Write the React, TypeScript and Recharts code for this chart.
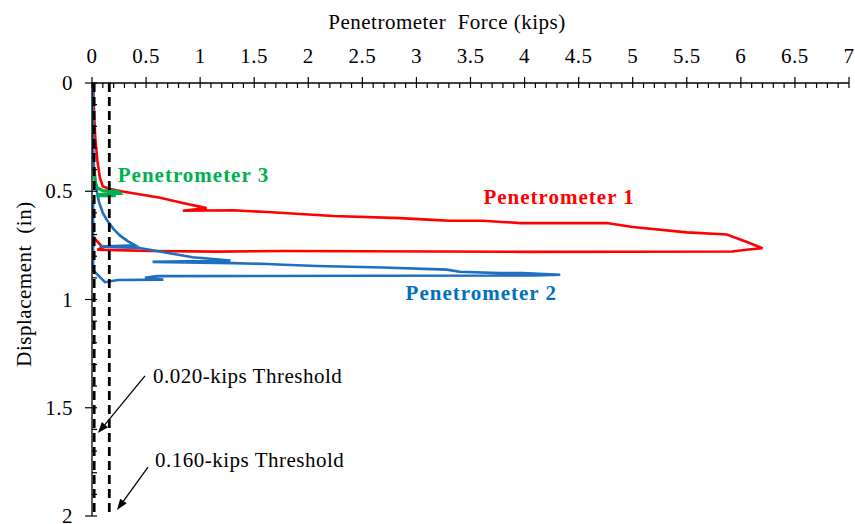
import React from 'react';
import { LineChart, Line, XAxis, YAxis, ReferenceLine, ReferenceDot } from 'recharts';

const FONT = '"Liberation Serif", "Times New Roman", Times, serif';

// Penetrometer 1 trace: force (kips) and displacement (in), in recording order
const p1Force = [0.01, 0.02, 0.03, 0.05, 0.074, 0.1, 0.17, 0.27, 0.45, 0.63, 0.85, 1.06, 0.84, 1.3, 1.62, 2.23, 2.85, 3.15, 3.31, 3.61, 3.96, 4.4, 4.76, 5.0, 5.5, 5.87, 6.05, 6.2, 6.05, 5.92, 4.0, 1.78, 1.16, 0.55, 0.23, 0.05, 0.1, 0.01];
const p1Disp = [0.0, 0.15, 0.25, 0.36, 0.44, 0.478, 0.49, 0.5, 0.515, 0.53, 0.555, 0.578, 0.59, 0.588, 0.596, 0.614, 0.624, 0.632, 0.636, 0.636, 0.647, 0.647, 0.647, 0.665, 0.69, 0.7, 0.733, 0.763, 0.77, 0.778, 0.78, 0.776, 0.779, 0.776, 0.772, 0.77, 0.76, 0.71];

// Penetrometer 2 trace
const p2Force = [0.01, 0.01, 0.012, 0.02, 0.03, 0.045, 0.065, 0.1, 0.14, 0.2, 0.26, 0.33, 0.4, 0.07, 0.44, 0.6, 0.93, 1.28, 0.56, 1.3, 1.62, 1.72, 2.08, 2.69, 3.28, 3.4, 3.77, 3.98, 4.33, 4.1, 0.6, 0.49, 0.66, 0.24, 0.12, 0.01, 0.01];
const p2Disp = [0.0, 0.2, 0.33, 0.4, 0.45, 0.5, 0.55, 0.6, 0.635, 0.675, 0.705, 0.73, 0.75, 0.756, 0.762, 0.776, 0.805, 0.82, 0.826, 0.832, 0.836, 0.838, 0.845, 0.852, 0.862, 0.872, 0.878, 0.878, 0.886, 0.889, 0.892, 0.9, 0.908, 0.91, 0.92, 0.865, 0.55];

// Penetrometer 3 trace
const p3Force = [0.02, 0.03, 0.05, 0.1, 0.24, 0.26, 0.06, 0.22, 0.04];
const p3Disp = [0.4, 0.46, 0.485, 0.497, 0.5, 0.51, 0.515, 0.52, 0.52];

// Threshold forces (kips)
const thresholds = [0.02, 0.16];

const xMajorTicks = [0, 0.5, 1, 1.5, 2, 2.5, 3, 3.5, 4, 4.5, 5, 5.5, 6, 6.5, 7];
const yMajorTicks = [0, 0.5, 1, 1.5, 2];

const seriesLabels = [
  { text: 'Penetrometer 1', f: 4.32, d: 0.528, color: '#FF0000' },
  { text: 'Penetrometer 2', f: 3.6, d: 0.968, color: '#0070C0' },
  { text: 'Penetrometer 3', f: 0.938, d: 0.425, color: '#00B050' },
];

const thresholdNotes = [
  { text: '0.020-kips Threshold', from: { x: 0.49, y: 1.353 }, to: { x: 0.055, y: 1.617 }, tdx: 8, tdy: 7 },
  { text: '0.160-kips Threshold', from: { x: 0.518, y: 1.774 }, to: { x: 0.231, y: 1.972 }, tdx: 7, tdy: 0 },
];

const toPoints = (f: number[], d: number[]) => f.map((v, i) => ({ f: v, d: d[i] }));
const p1 = toPoints(p1Force, p1Disp);
const p2 = toPoints(p2Force, p2Disp);
const p3 = toPoints(p3Force, p3Disp);

// Four minor ticks between each pair of major ticks
const withMinor = (majors: number[]) => {
  const out: number[] = [];
  for (let i = 0; i < majors.length - 1; i++) {
    const a = majors[i];
    const b = majors[i + 1];
    for (let k = 0; k < 5; k++) out.push(+(a + ((b - a) * k) / 5).toFixed(4));
  }
  out.push(majors[majors.length - 1]);
  return out;
};
const isMajor = (v: number, majors: number[]) => majors.some((m) => Math.abs(m - v) < 1e-6);

const textStyle = { fontFamily: FONT, fontSize: 21, letterSpacing: 0.5, fill: '#000' };

const XTick = (props: any) => {
  const { x, y, payload } = props;
  const v = payload.value;
  if (!isMajor(v, xMajorTicks)) {
    return <line x1={x} x2={x} y1={y} y2={y + 5} stroke="#000" strokeWidth={1.2} />;
  }
  return (
    <g>
      <line x1={x} x2={x} y1={y - 6} y2={y + 5} stroke="#000" strokeWidth={1.2} />
      <text x={x} y={y - 20} textAnchor="middle" {...textStyle}>
        {String(v)}
      </text>
    </g>
  );
};

const YTick = (props: any) => {
  const { x, y, payload } = props;
  const v = payload.value;
  if (!isMajor(v, yMajorTicks)) {
    return <line x1={x} x2={x + 5} y1={y} y2={y} stroke="#000" strokeWidth={1.2} />;
  }
  return (
    <g>
      <line x1={x - 7} x2={x + 5} y1={y} y2={y} stroke="#000" strokeWidth={1.2} />
      <text x={x - 19} y={y + 7} textAnchor="end" {...textStyle}>
        {String(v)}
      </text>
    </g>
  );
};

const Arrow = (props: any) => {
  const { x1, y1, x2, y2, text, tdx, tdy } = props;
  const ang = Math.atan2(y2 - y1, x2 - x1);
  const L = 11;
  const W = 4;
  const bx = x2 - L * Math.cos(ang);
  const by = y2 - L * Math.sin(ang);
  const px = -Math.sin(ang) * W;
  const py = Math.cos(ang) * W;
  return (
    <g>
      <line x1={x1} y1={y1} x2={bx} y2={by} stroke="#000" strokeWidth={1.3} />
      <polygon points={`${x2},${y2} ${bx + px},${by + py} ${bx - px},${by - py}`} fill="#000" />
      <text x={x1 + tdx} y={y1 + tdy} {...textStyle}>
        {text}
      </text>
    </g>
  );
};

export default function App() {
  return (
    <div style={{ position: 'absolute', left: 0, top: 0, width: 855, height: 524, background: '#fff' }}>
      <LineChart width={855} height={524} margin={{ top: 43, right: 6, bottom: 8, left: 12 }}>
        <XAxis
          xAxisId={0}
          dataKey="f"
          type="number"
          orientation="top"
          domain={[0, 7]}
          allowDataOverflow
          ticks={withMinor(xMajorTicks)}
          interval={0}
          height={40}
          tickLine={false}
          tickSize={0}
          tickMargin={0}
          tick={<XTick />}
          axisLine={{ stroke: '#000', strokeWidth: 1.3 }}
          label={{
            content: (lp: any) => {
              const vb = lp.viewBox || { x: 92, y: 43, width: 757 };
              return (
                <text
                  x={vb.x + vb.width / 2 - 23.5}
                  y={vb.y - 14}
                  textAnchor="middle"
                  {...textStyle}
                  style={{ whiteSpace: 'pre' }}
                >
                  {'Penetrometer  Force (kips)'}
                </text>
              );
            },
          }}
        />
        <YAxis
          yAxisId={0}
          type="number"
          domain={[0, 2]}
          reversed
          allowDataOverflow
          ticks={withMinor(yMajorTicks)}
          interval={0}
          width={80}
          tickLine={false}
          tickSize={0}
          tickMargin={0}
          tick={<YTick />}
          axisLine={{ stroke: '#000', strokeWidth: 1.3 }}
          label={{
            content: (lp: any) => {
              const vb = lp.viewBox || { x: 12, y: 83, width: 80, height: 433 };
              const cx = vb.x + 19;
              const cy = vb.y + vb.height / 2 - 15.5;
              return (
                <text
                  x={cx}
                  y={cy}
                  transform={`rotate(-90, ${cx}, ${cy})`}
                  textAnchor="middle"
                  {...textStyle}
                  style={{ whiteSpace: 'pre' }}
                >
                  {'Displacement  (in)'}
                </text>
              );
            },
          }}
        />
        <Line data={p1} dataKey="d" type="linear" dot={false} stroke="#FF0000" strokeWidth={2.6} isAnimationActive={false} />
        <Line data={p2} dataKey="d" type="linear" dot={false} stroke="#1F6FC0" strokeWidth={2.6} isAnimationActive={false} />
        <Line data={p3} dataKey="d" type="linear" dot={false} stroke="#00B050" strokeWidth={3.2} isAnimationActive={false} />
        {thresholds.map((t) => (
          <ReferenceLine key={t} x={t} stroke="#000" strokeWidth={2.8} strokeDasharray="9 5" />
        ))}
        {thresholdNotes.map((n) => (
          <ReferenceLine
            key={n.text}
            segment={[n.from, n.to]}
            ifOverflow="visible"
            shape={(sp: any) => <Arrow {...sp} text={n.text} tdx={n.tdx} tdy={n.tdy} />}
          />
        ))}
        {seriesLabels.map((s) => (
          <ReferenceDot
            key={s.text}
            x={s.f}
            y={s.d}
            r={0}
            ifOverflow="visible"
            shape={(dp: any) => (
              <text
                x={dp.cx}
                y={dp.cy + 7}
                textAnchor="middle"
                fontFamily={FONT}
                fontSize={21}
                fontWeight="bold"
                letterSpacing={1}
                fill={s.color}
              >
                {s.text}
              </text>
            )}
          />
        ))}
      </LineChart>
    </div>
  );
}
